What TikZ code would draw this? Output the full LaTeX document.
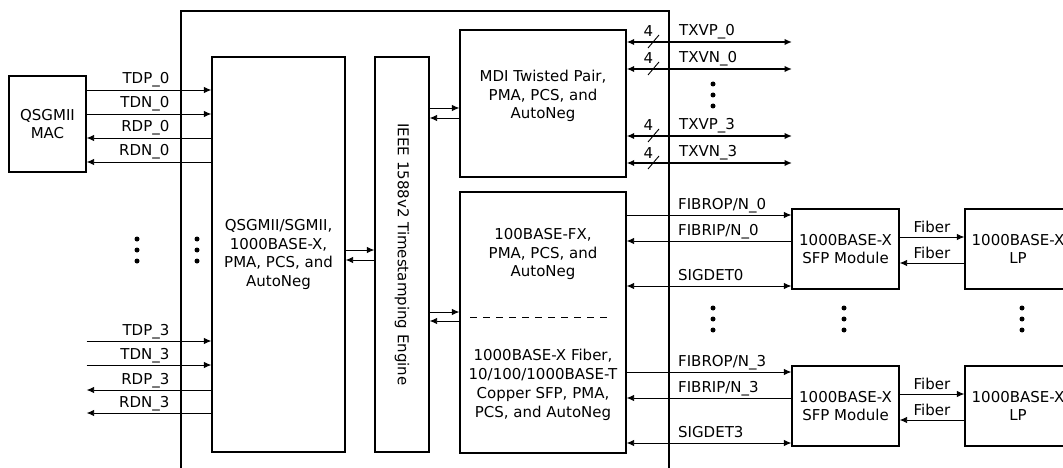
\documentclass[tikz,border=0pt]{standalone}
\usepackage{fontspec}
\setmainfont{DejaVu Sans}
\usetikzlibrary{arrows.meta}
\usetikzlibrary{calc,positioning}

\begin{document}
\begin{tikzpicture}[x=1pt, y=-1pt, >={Latex[length=7.5pt, width=6.5pt]},
    font=\fontsize{15}{18.8}\selectfont,
    blk/.style={draw, line width=1.3pt, inner sep=0pt, align=center},
    sig/.style={line width=0.9pt},
    bus/.style={line width=2.2pt},
    lbl/.style={inner sep=0pt},
    vdot/.style={circle, fill, inner sep=0pt, minimum size=5pt}]

    \useasboundingbox (0,0) rectangle (1063,468);
    \clip (0,0) rectangle (1063,468);

    % chip outline, runs off the bottom
    \node[draw, line width=2pt, minimum width=488, minimum height=469] (chip) at (425,245.5) {};

    \node[blk, minimum width=77, minimum height=96] (mac) at (47.5,124) {QSGMII\\MAC};
    \node[blk, minimum width=133, minimum height=395] (qsg) at (278.5,254.5) {QSGMII/SGMII,\\1000BASE-X,\\PMA, PCS, and\\AutoNeg};
    \node[blk, minimum width=54, minimum height=395] (ieee) at (402,254.5) {};
    \node[rotate=-90] (ieee-t) at (ieee.center) {IEEE 1588v2 Timestamping Engine};

    \node[blk, minimum width=166, minimum height=147] (mdi) at (543,103.5) {};
    \node[align=center] (mdi-t) at (543,96) {MDI Twisted Pair,\\PMA, PCS, and\\AutoNeg};
    \node[blk, minimum width=166, minimum height=261] (fib) at (543,322.5) {};
    \node[align=center] (fx-t) at (543,254) {100BASE-FX,\\PMA, PCS, and\\AutoNeg};
    \node[align=center] (cu-t) at (543,385) {1000BASE-X Fiber,\\10/100/1000BASE-T\\Copper SFP, PMA,\\PCS, and AutoNeg};
    \draw[dash pattern=on 7pt off 6pt, line width=0.8pt] (470,317) -- (613,317);

    % MAC side
    \foreach \y/\t in {90/TDP\_0, 114/TDN\_0, 341/TDP\_3, 365/TDN\_3}
        \draw[sig, ->] (mac.east |- 0,\y) -- (qsg.west |- 0,\y) node[lbl, pos=0.667, anchor=base east, yshift=6pt] (l\y) {\t};
    \foreach \y/\t in {138/RDP\_0, 162/RDN\_0, 390/RDP\_3, 413/RDN\_3}
        \draw[sig, <-] (mac.east |- 0,\y) -- (qsg.west |- 0,\y) node[lbl, pos=0.667, anchor=base east, yshift=6pt] (l\y) {\t};

    % timestamping engine links
    \draw[sig, ->] (qsg.east |- 0,250) -- (ieee.west |- 0,250);
    \draw[sig, <-] (qsg.east |- 0,260) -- (ieee.west |- 0,260);
    \draw[sig, ->] (ieee.east |- 0,108) -- (mdi.west |- 0,108);
    \draw[sig, <-] (ieee.east |- 0,118) -- (mdi.west |- 0,118);
    \draw[sig, ->] (ieee.east |- 0,312) -- (fib.west |- 0,312);
    \draw[sig, <-] (ieee.east |- 0,321) -- (fib.west |- 0,321);

    % twisted pair outputs
    \foreach \y/\t in {42/TXVP\_0, 69/TXVN\_0, 136/TXVP\_3, 163/TXVN\_3} {
        \coordinate (tx\y) at (792,\y);
        \draw[bus, <->] (mdi.east |- tx\y) -- (tx\y);
        \draw[sig] (648,\y+6) -- (659,\y-7);
        \node[lbl, anchor=base] (n\y) at (648.5,\y-5) {4};
        \node[lbl, anchor=base west] (t\y) at (679,\y-6) {\t};
    }

    % fiber side
    \foreach \n/\y in {0/249, 3/406} {
        \node[blk, minimum width=107, minimum height=80] (sfp\n) at (845.5,\y) {1000BASE-X\\SFP Module};
        \node[blk, minimum width=106, minimum height=80] (lp\n) at (1018,\y) {1000BASE-X\\LP};
        \draw[sig, ->] ([yshift=34pt]sfp\n.west -| fib.east) -- ([yshift=34pt]sfp\n.west)
            node[lbl, pos=0.31, anchor=base west, yshift=5.5pt] (fo\n) {FIBROP/N\_\n};
        \draw[sig, <-] ([yshift=8pt]sfp\n.west -| fib.east) -- ([yshift=8pt]sfp\n.west)
            node[lbl, pos=0.31, anchor=base west, yshift=5.5pt] (fi\n) {FIBRIP/N\_\n};
        \draw[sig, <->] ([yshift=-37pt]sfp\n.west -| fib.east) -- ([yshift=-37pt]sfp\n.west)
            node[lbl, pos=0.31, anchor=base west, yshift=5.5pt] (sd\n) {SIGDET\n};
        \draw[sig, ->] ([yshift=12pt]sfp\n.east) -- ([yshift=12pt]lp\n.west)
            node[lbl, midway, anchor=base, yshift=5pt] (ft\n) {Fiber};
        \draw[sig, <-] ([yshift=-14pt]sfp\n.east) -- ([yshift=-14pt]lp\n.west)
            node[lbl, midway, anchor=base, yshift=5pt] (fr\n) {Fiber};
    }

    % ellipsis dots
    \foreach \x/\y in {137/250, 197/250, 713/95, 713/319, 844/319, 1022/319}
        \foreach \d in {-11,0,11}
            \node[vdot] (d\x-\y-\d) at (\x,\y+\d) {};

\end{tikzpicture}
\end{document}
